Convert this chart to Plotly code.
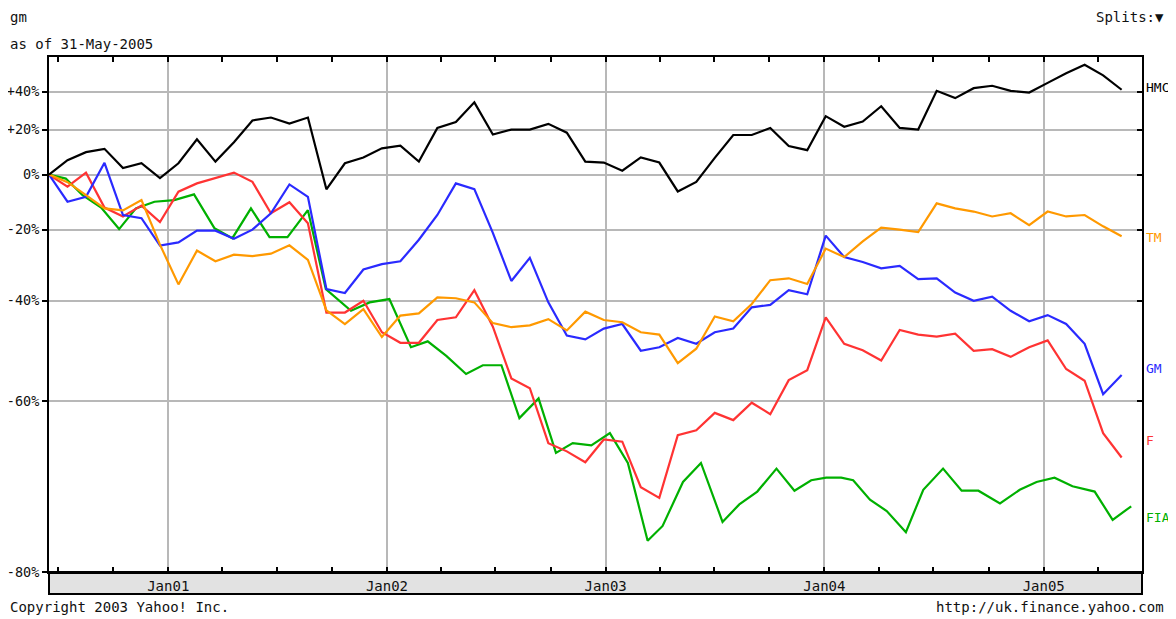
import numpy as np
import pandas as pd
import plotly.graph_objects as go

# roughly monthly sample dates for HMC, TM, GM, F
dates = pd.date_range("2000-06-16", "2005-05-11", periods=59)
# FIA (Milan listing) is sampled on its own days
fia_dates = [
    "2000-06-16", "2000-07-14", "2000-08-11", "2000-09-11", "2000-10-11",
    "2000-11-08", "2000-12-09", "2001-01-11", "2001-02-13", "2001-03-19",
    "2001-04-18", "2001-05-19", "2001-06-19", "2001-07-19", "2001-08-22",
    "2001-09-21", "2001-11-02", "2001-12-03", "2002-01-05", "2002-02-10",
    "2002-03-10", "2002-04-10", "2002-05-13", "2002-06-10", "2002-07-11",
    "2002-08-10", "2002-09-11", "2002-10-10", "2002-11-07", "2002-12-08",
    "2003-01-08", "2003-02-07", "2003-03-12", "2003-04-06", "2003-05-10",
    "2003-06-09", "2003-07-15", "2003-08-12", "2003-09-11", "2003-10-13",
    "2003-11-12", "2003-12-10", "2004-01-04", "2004-01-29", "2004-02-18",
    "2004-03-17", "2004-04-14", "2004-05-16", "2004-06-14", "2004-07-17",
    "2004-08-17", "2004-09-14", "2004-10-20", "2004-11-22", "2004-12-20",
    "2005-01-19", "2005-02-18", "2005-03-27", "2005-04-26", "2005-05-27",
]

# % change since first point
hmc = [0, 6, 9.5, 11, 2.7, 4.7, -1.4, 4.7, 15.4, 5.4,
       14, 24.5, 26, 23, 26, -5.8, 4.7, 7.2, 11.2, 12.4,
       5.4, 20.8, 23.7, 34, 17.6, 20, 20, 22.8, 18.5, 5.4,
       5, 1.6, 7.2, 5, -6.6, -2.9, 7, 17.4, 17.4, 20.8,
       12.3, 10.4, 26.7, 21.4, 24, 31.9, 20.8, 20, 40.4, 36.3,
       41.9, 43.3, 40.4, 39.4, 45, 50.8, 56, 49.5, 41]
tm = [0, -3, -8, -12.8, -13.5, -9.8, -24.7, -35.9, -26.5, -29.6,
      -27.7, -28.1, -27.4, -24.9, -29.2, -42.3, -45.4, -42, -48.2, -43.5,
      -43, -39.2, -39.4, -40.4, -45.2, -46.1, -45.7, -44.3, -46.8, -42.6,
      -44.5, -45, -47.2, -47.7, -53.4, -50.6, -43.7, -44.8, -40.8, -34.8,
      -34.3, -35.8, -25.9, -28.4, -23.7, -19.3, -20, -20.8, -11, -12.8,
      -13.9, -15.6, -14.5, -18.5, -13.9, -15.6, -15.1, -18.9, -22.1]
gm = [0, -10.4, -8.6, 4.9, -15.1, -16.2, -25, -24, -20.3, -20.3,
      -22.9, -20, -14.5, -3.9, -8.6, -37.1, -38.1, -31.9, -30.4, -29.6,
      -23.2, -15.1, -3.5, -5.7, -21, -35, -28.6, -40.4, -47.9, -48.7,
      -46.4, -45.4, -51, -50.3, -48.4, -49.6, -47.2, -46.4, -41.6, -41,
      -37.4, -38.4, -21.9, -28.4, -29.8, -31.6, -30.9, -34.5, -34.3, -38,
      -40, -39, -42.4, -44.8, -43.4, -45.4, -49.6, -58.9, -55.6]
ford = [0, -4.8, 0.8, -12.5, -15.6, -11.8, -17.5, -6.7, -3.5, -1.3,
        0.8, -2.9, -14.5, -10.6, -17.9, -42.8, -42.8, -40, -47.2, -49.4,
        -49.4, -44.5, -43.9, -37.4, -46, -56.2, -57.9, -66.3, -67.4, -68.8,
        -65.8, -66.1, -71.8, -73, -65.2, -64.5, -61.9, -63, -60.3, -62.1,
        -56.5, -54.7, -43.9, -49.6, -50.9, -52.9, -46.7, -47.7, -48.1, -47.5,
        -51, -50.7, -52.2, -50.3, -48.9, -54.5, -56.6, -64.9, -68.2]
fia = [0, -1.6, -8, -12.5, -19.8, -12.8, -10.4, -9.8, -7.7, -19.5,
       -22.7, -12.8, -22.4, -22.4, -13.4, -37.1, -42.4, -40.4, -39.6, -50.3,
       -49.1, -52, -55.4, -53.8, -53.8, -62.7, -59.6, -67.6, -66.3, -66.6,
       -64.9, -68.9, -77.3, -75.9, -71.2, -68.9, -75.5, -73.7, -72.3, -69.6,
       -72.2, -71, -70.7, -70.7, -71, -73.2, -74.4, -76.5, -72.1, -69.6,
       -72.2, -72.2, -73.6, -72.1, -71.2, -70.7, -71.7, -72.3, -75.3, -73.9]

tick_pct = [-80, -60, -40, -20, 0, 20, 40]
tick_txt = ["-80%", "-60%", "-40%", "-20%", "0%", "+20%", "+40%"]

# the page body adds an 8px margin around the figure
W, H = 1160, 611
L, R, T, B = 41, 26, 49, 47
PLOT_X0, PLOT_Y1 = 49, 572          # plot box on screen
PLOT_W, PLOT_H = W - L - R, H - T - B
FONT = "DejaVu Sans Mono"


def px(x):  # screen pixel -> paper
    return (x - PLOT_X0) / PLOT_W


def py(y):
    return (PLOT_Y1 - y) / PLOT_H


# name, x, values, colour, label nudge (px)
series = [
    ("HMC", dates, hmc, "#000000", 2),
    ("TM", dates, tm, "#ff9900", -1),
    ("GM", dates, gm, "#2a2aff", 7),
    ("F", dates, ford, "#ff3333", 17),
    ("FIA", fia_dates, fia, "#00b000", -11),
]

fig = go.Figure()
for name, xs, vals, col, _ in series[::-1]:
    fig.add_trace(go.Scatter(
        x=xs, y=1 + np.array(vals) / 100, name=name, mode="lines",
        line=dict(color=col, width=2.2), showlegend=False))
# dummy trace so the right-hand tick axis is drawn
fig.add_trace(go.Scatter(x=[], y=[], yaxis="y2", showlegend=False, hoverinfo="skip"))

yrange = [np.log10(0.2), np.log10(1.61)]
tickvals = [1 + p / 100 for p in tick_pct]

fig.update_layout(
    width=W, height=H,
    margin=dict(l=L, r=R, t=T, b=B, autoexpand=False),
    paper_bgcolor="white", plot_bgcolor="white",
    font=dict(family=FONT, size=14, color="#111"),
    xaxis=dict(
        type="date", range=["2000-06-16", "2005-06-14"], automargin=False,
        tick0="2001-01-01", dtick="M12", tickformat="%b%y",
        ticks="inside", ticklen=5, tickcolor="black", tickwidth=1.5,
        showgrid=True, gridcolor="#b8b8b8", gridwidth=2,
        showline=True, linecolor="black", linewidth=2, mirror="ticks",
        minor=dict(dtick="M3", ticks="inside", ticklen=5, tickcolor="black",
                   tickwidth=1.5, showgrid=False),
        tickfont=dict(size=14, color="#111"),
    ),
    yaxis=dict(
        type="log", range=yrange, tickvals=tickvals, ticktext=tick_txt,
        automargin=False,
        ticks="outside", ticklen=5, tickcolor="black", tickwidth=1.5,
        showgrid=True, gridcolor="#b8b8b8", gridwidth=2,
        showline=True, linecolor="black", linewidth=2, mirror=True,
        tickfont=dict(size=13.5, color="#111"),
    ),
    yaxis2=dict(
        type="log", range=yrange, tickvals=tickvals, overlaying="y", side="right",
        automargin=False,
        ticks="inside", ticklen=5, tickcolor="black", tickwidth=1.5,
        showticklabels=False, showgrid=False, showline=False,
    ),
)

# 0% baseline
fig.add_shape(type="line", xref="paper", x0=0, x1=1, yref="y", y0=0, y1=0,
              line=dict(color="black", width=2))

# grey date band under the plot
fig.add_shape(type="rect", xref="paper", yref="paper", x0=0, x1=1,
              y0=py(594), y1=0, fillcolor="#e2e2e2",
              line=dict(color="black", width=2), layer="below")

# end-of-line labels
for name, xs, vals, col, nudge in series:
    fig.add_annotation(x=1, xref="paper", xshift=2, xanchor="left",
                       y=np.log10(1 + vals[-1] / 100), yref="y", yshift=nudge,
                       text=name, showarrow=False, font=dict(color=col, size=13))

texts = [
    ("gm", 8, 17, "left"),
    ("as of 31-May-2005", 8, 44, "left"),
    ("Splits:▼", 1166, 17, "right"),
    ("Copyright 2003 Yahoo! Inc.", 8, 607, "left"),
    ("http://uk.finance.yahoo.com", 1166, 607, "right"),
]
for t, x, y, anc in texts:
    fig.add_annotation(x=px(x), y=py(y), xref="paper", yref="paper",
                       xanchor=anc, yanchor="middle", text=t, showarrow=False,
                       font=dict(size=14, color="#111"))

fig.write_html("out.html")
